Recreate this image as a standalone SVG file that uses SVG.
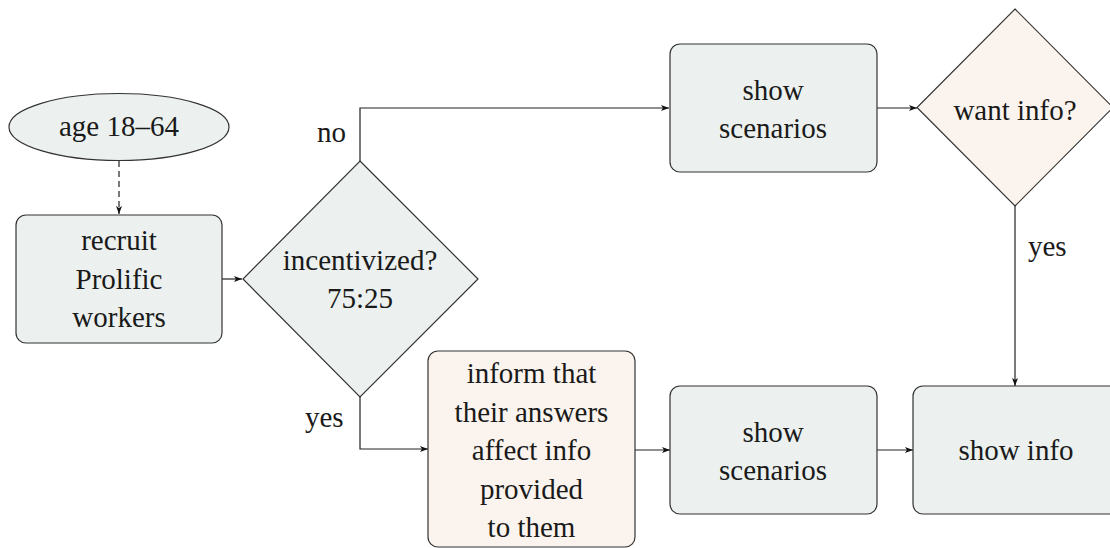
<svg xmlns="http://www.w3.org/2000/svg" width="1110" height="548" viewBox="0 0 1110 548">
<style>
text{font-family:"Times New Roman","Liberation Serif",Tinos,serif !important;font-size:29px;fill:#1a1a1a}
.m{text-anchor:middle}
.g{fill:#ECF1EF;stroke:#333;stroke-width:1.2}
.p{fill:#FBF4EE;stroke:#333;stroke-width:1.2}
.c{fill:none;stroke:#222;stroke-width:1.2}
</style>
<defs>
<marker id="ah" markerWidth="9" markerHeight="7" refX="8" refY="3.5" orient="auto" markerUnits="userSpaceOnUse">
<path d="M0,0.5 L8,3.5 L0,6.5 L2,3.5 z" fill="#111"/>
</marker>
</defs>
<rect width="1110" height="548" fill="#fff"/>
<g id="connectors">
<path class="c" d="M119,161 V214" stroke-dasharray="6,4" marker-end="url(#ah)"/>
<path class="c" d="M222,279 H242" marker-end="url(#ah)"/>
<path class="c" d="M360,161 V108 H669" marker-end="url(#ah)"/>
<path class="c" d="M877,108 H917" marker-end="url(#ah)"/>
<path class="c" d="M1015,206 V386" marker-end="url(#ah)"/>
<path class="c" d="M360,397 V449 H428" marker-end="url(#ah)"/>
<path class="c" d="M635,450 H670" marker-end="url(#ah)"/>
<path class="c" d="M877,450 H913" marker-end="url(#ah)"/>
<text x="317" y="142" font-family="Times New Roman">no</text>
<text x="305" y="427" font-family="Times New Roman">yes</text>
<text x="1028" y="256" font-family="Times New Roman">yes</text>
</g>
<g id="age">
<ellipse class="g" cx="119" cy="127" rx="110" ry="33.5"/>
<text class="m" x="119" y="136" font-family="Times New Roman">age 18–64</text>
</g>
<g id="recruit">
<rect class="g" x="16" y="215" width="206" height="128" rx="10"/>
<text class="m" x="119" y="250" font-family="Times New Roman">recruit</text>
<text class="m" x="119" y="289" font-family="Times New Roman">Prolific</text>
<text class="m" x="119" y="327" font-family="Times New Roman">workers</text>
</g>
<g id="incentivized">
<polygon class="g" points="360,161 478,279 360,397 243,279"/>
<text class="m" x="360" y="270" font-family="Times New Roman">incentivized?</text>
<text class="m" x="360" y="308" font-family="Times New Roman">75:25</text>
</g>
<g id="scenarios1">
<rect class="g" x="670" y="44" width="207" height="128" rx="10"/>
<text class="m" x="773" y="100" font-family="Times New Roman">show</text>
<text class="m" x="773" y="138" font-family="Times New Roman">scenarios</text>
</g>
<g id="wantinfo">
<polygon class="p" points="1015,9 1113,107.5 1015,206 917,107.5"/>
<text class="m" x="1015" y="120" font-family="Times New Roman">want info?</text>
</g>
<g id="inform">
<rect class="p" x="428" y="351" width="207" height="196" rx="10"/>
<text class="m" x="531.5" y="383" font-family="Times New Roman">inform that</text>
<text class="m" x="531.5" y="421.5" font-family="Times New Roman">their answers</text>
<text class="m" x="531.5" y="460" font-family="Times New Roman">affect info</text>
<text class="m" x="531.5" y="498.5" font-family="Times New Roman">provided</text>
<text class="m" x="531.5" y="537" font-family="Times New Roman">to them</text>
</g>
<g id="scenarios2">
<rect class="g" x="670" y="386" width="207" height="128" rx="10"/>
<text class="m" x="773" y="442" font-family="Times New Roman">show</text>
<text class="m" x="773" y="480" font-family="Times New Roman">scenarios</text>
</g>
<g id="showinfo">
<rect class="g" x="913" y="386" width="207" height="128" rx="10"/>
<text class="m" x="1016" y="460" font-family="Times New Roman">show info</text>
</g>
</svg>
